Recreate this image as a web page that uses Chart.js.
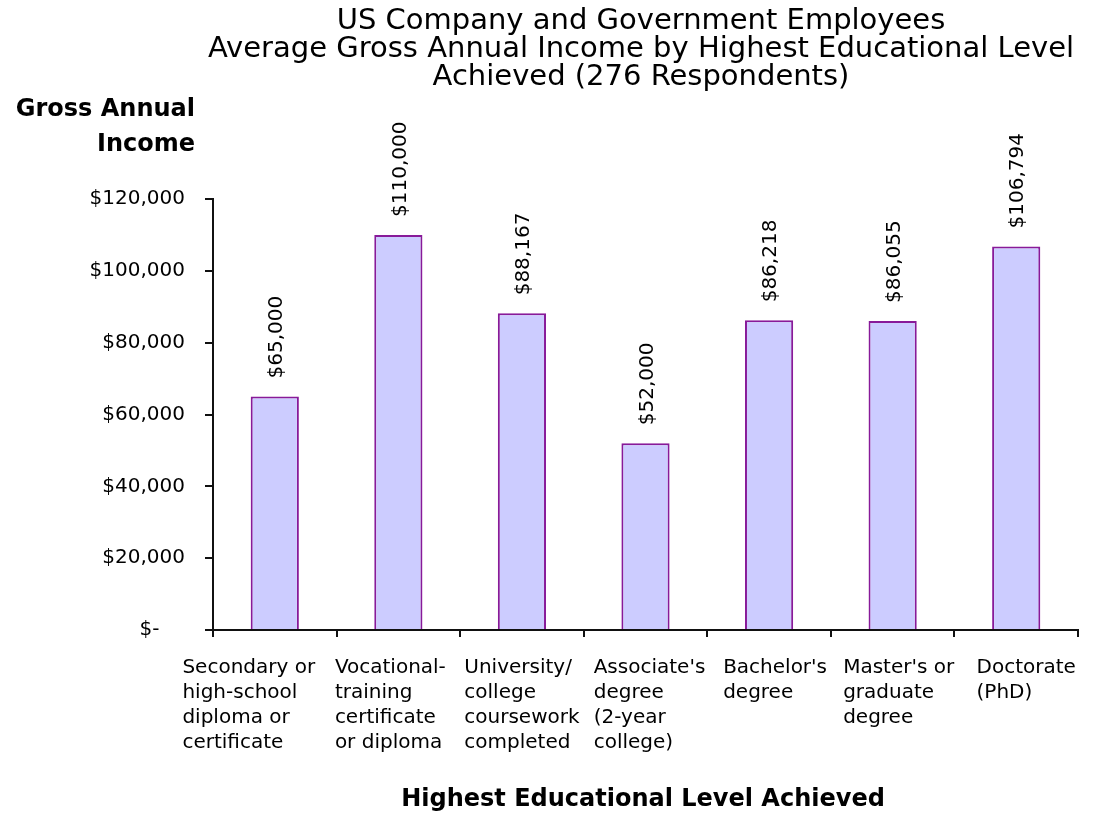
<!DOCTYPE html>
<html>
<head>
<meta charset="utf-8">
<script src="https://cdn.jsdelivr.net/npm/chart.js@4.4.1/dist/chart.umd.min.js"></script>
<style>
  html, body { margin: 0; padding: 0; background: #ffffff; }
  #wrap { width: 1101px; height: 840px; position: relative; }
</style>
</head>
<body>
<div id="wrap"><canvas id="chart"></canvas></div>
<script>
// Education levels (wrapped as they appear under the axis)
const categories = [
  ['Secondary or', 'high-school', 'diploma or', 'certificate'],
  ['Vocational-', 'training', 'certificate', 'or diploma'],
  ['University/', 'college', 'coursework', 'completed'],
  ["Associate's", 'degree', '(2-year', 'college)'],
  ["Bachelor's", 'degree'],
  ["Master's or", 'graduate', 'degree'],
  ['Doctorate', '(PhD)']
];

// Average gross annual income per level (USD)
const incomes = [65000, 110000, 88167, 52000, 86218, 86055, 106794];

// Value axis range and step
const yMin = 0;
const yMax = 120000;
const yStep = 20000;

const titleLines = [
  'US Company and Government Employees',
  'Average Gross Annual Income by Highest Educational Level',
  'Achieved (276 Respondents)'
];
const yTitleLines = ['Gross Annual', 'Income'];
const xTitle = 'Highest Educational Level Achieved';

const FONT = "'DejaVu Sans', Verdana, sans-serif";

// small horizontal nudges for the wrapped category label blocks
const labelNudge = [-26, -8, 0, 4, 6, 6, 10];

function money(v) {
  if (v === 0) return '$-\u2007\u2007';
  return '$' + v.toLocaleString('en-US');
}

// Draws titles, wrapped category labels and rotated value labels
const decorations = {
  id: 'decorations',
  afterDraw(chart) {
    const ctx = chart.ctx;
    const x = chart.scales.x;
    ctx.save();
    ctx.fillStyle = '#000';

    // main title
    ctx.font = '29px ' + FONT;
    ctx.textAlign = 'center';
    ctx.textBaseline = 'middle';
    titleLines.forEach((t, i) => ctx.fillText(t, 641, 21 + i * 28));

    // value-axis title, right aligned above the axis
    ctx.font = 'bold 24px ' + FONT;
    ctx.textAlign = 'right';
    yTitleLines.forEach((t, i) => ctx.fillText(t, 195, 110 + i * 35));

    // category-axis title
    ctx.textAlign = 'center';
    ctx.fillText(xTitle, 643, 800);

    // wrapped category labels: left-aligned lines, block centred on the category
    ctx.font = '20px ' + FONT;
    ctx.textAlign = 'left';
    categories.forEach((lines, i) => {
      const cx = x.getPixelForValue(i) + labelNudge[i];
      const w = Math.max(...lines.map(l => ctx.measureText(l).width));
      lines.forEach((l, j) => ctx.fillText(l, cx - w / 2, 668 + j * 25));
    });

    // rotated value labels above each bar
    const meta = chart.getDatasetMeta(0);
    ctx.font = '20px ' + FONT;
    ctx.textAlign = 'left';
    ctx.textBaseline = 'middle';
    meta.data.forEach((bar, i) => {
      ctx.save();
      ctx.translate(bar.x + 2, bar.y - 18);
      ctx.rotate(-Math.PI / 2);
      ctx.fillText(money(incomes[i]), 0, 0);
      ctx.restore();
    });
    ctx.restore();
  }
};

new Chart(document.getElementById('chart'), {
  type: 'bar',
  data: {
    labels: categories.map(c => c.join(' ')),
    datasets: [{
      data: incomes,
      backgroundColor: '#ccccff',
      borderColor: '#881a99',
      borderWidth: 2,
      categoryPercentage: 1,
      barPercentage: 0.39
    }]
  },
  options: {
    responsive: true,
    maintainAspectRatio: false,
    animation: false,
    devicePixelRatio: 1,
    layout: { padding: { top: 199, left: 0, right: 23, bottom: 200 } },
    plugins: { legend: { display: false }, tooltip: { enabled: false }, title: { display: false } },
    scales: {
      x: {
        offset: true,
        grid: { offset: true, drawOnChartArea: false, drawTicks: true, tickLength: 7, color: '#111', lineWidth: 2 },
        border: { display: true, color: '#111', width: 2 },
        ticks: { display: false },
        afterFit(s) { s.height = 10; }
      },
      y: {
        min: yMin,
        max: yMax,
        grid: { drawOnChartArea: false, drawTicks: true, tickLength: 8, color: '#111', lineWidth: 2 },
        border: { display: true, color: '#111', width: 2 },
        ticks: {
          stepSize: yStep,
          padding: 20,
          color: '#000',
          font: { family: FONT, size: 20 },
          callback: v => money(v)
        },
        afterFit(s) { s.width = 213; }
      }
    }
  },
  plugins: [decorations]
});
</script>
</body>
</html>
